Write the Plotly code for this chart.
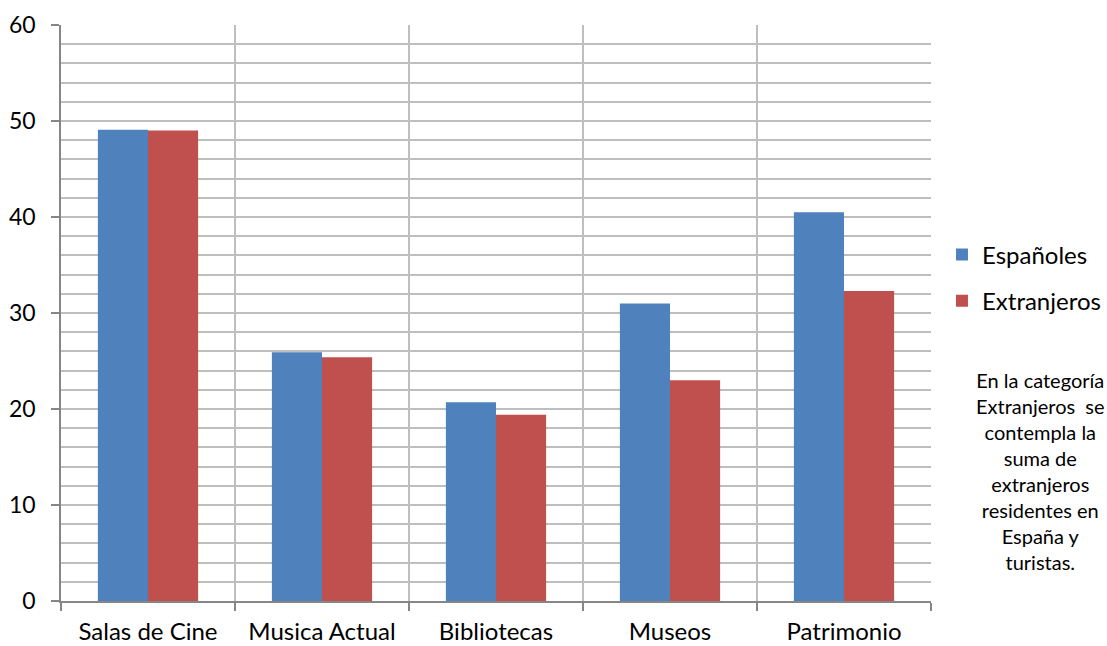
import plotly.graph_objects as go

categories = ["Salas de Cine", "Musica Actual", "Bibliotecas", "Museos", "Patrimonio"]
espanoles = [49.1, 25.9, 20.7, 31.0, 40.5]
extranjeros = [49.0, 25.4, 19.4, 23.0, 32.3]
series_names = ["Españoles", "Extranjeros"]
y_ticks = [0, 10, 20, 30, 40, 50, 60]
note_lines = ["En la categoría", "Extranjeros  se", "contempla la", "suma de",
              "extranjeros", "residentes en", "España y", "turistas."]

FONT = "Lato"
GRID = "#BEBEBE"
AXIS = "#868686"

fig = go.Figure()
fig.add_trace(go.Bar(x=categories, y=espanoles, name=series_names[0],
                     marker=dict(color="#4F81BD", line=dict(width=0)),
                     legendgroup="a"))
fig.add_trace(go.Bar(x=categories, y=extranjeros, name=series_names[1],
                     marker=dict(color="#C0504D", line=dict(width=0)),
                     legendgroup="b"))

fig.update_layout(
    width=1107, height=646,
    margin=dict(l=61, r=176, t=25, b=45, autoexpand=False),
    paper_bgcolor="white", plot_bgcolor="white",
    barmode="group", bargap=0.424, bargroupgap=0,
    font=dict(family=FONT, size=23, color="#000000"),
    legend=dict(x=1.0126, y=0.561, xanchor="left", yanchor="middle",
                font=dict(size=24), tracegroupgap=12, traceorder="grouped",
                bgcolor="rgba(0,0,0,0)", itemwidth=30),
    xaxis=dict(type="category", tickson="boundaries", showgrid=True,
               gridcolor=GRID, gridwidth=1.5, ticks="outside", ticklen=8,
               tickcolor=AXIS, tickwidth=1.5, showline=True, linecolor=AXIS,
               linewidth=1.5, range=[-0.5, 4.5], tickfont=dict(size=24),
               ticklabelstandoff=8),
    xaxis2=dict(overlaying="x", anchor="y", range=[-0.5, 4.5], tick0=0, dtick=1,
                showgrid=True, gridcolor=GRID, gridwidth=1.5, showticklabels=False,
                ticks="", showline=False, zeroline=False),
    yaxis=dict(range=[0, 60], tickvals=y_ticks, showgrid=True, gridcolor=GRID,
               gridwidth=1.5, ticks="outside", ticklen=8, tickcolor=AXIS,
               tickwidth=1.5, showline=True, linecolor=AXIS, linewidth=1.5,
               zeroline=False, tickfont=dict(size=23), ticklabelstandoff=11,
               minor=dict(dtick=2, showgrid=True, gridcolor=GRID, gridwidth=1.5)),
)

fig.add_annotation(text="<br>".join(note_lines), xref="paper", yref="paper",
                   x=1.1253, y=0.408, xanchor="center", yanchor="top",
                   showarrow=False, align="center",
                   font=dict(family=FONT, size=20, color="#000000"))

fig.write_html("out.html")
